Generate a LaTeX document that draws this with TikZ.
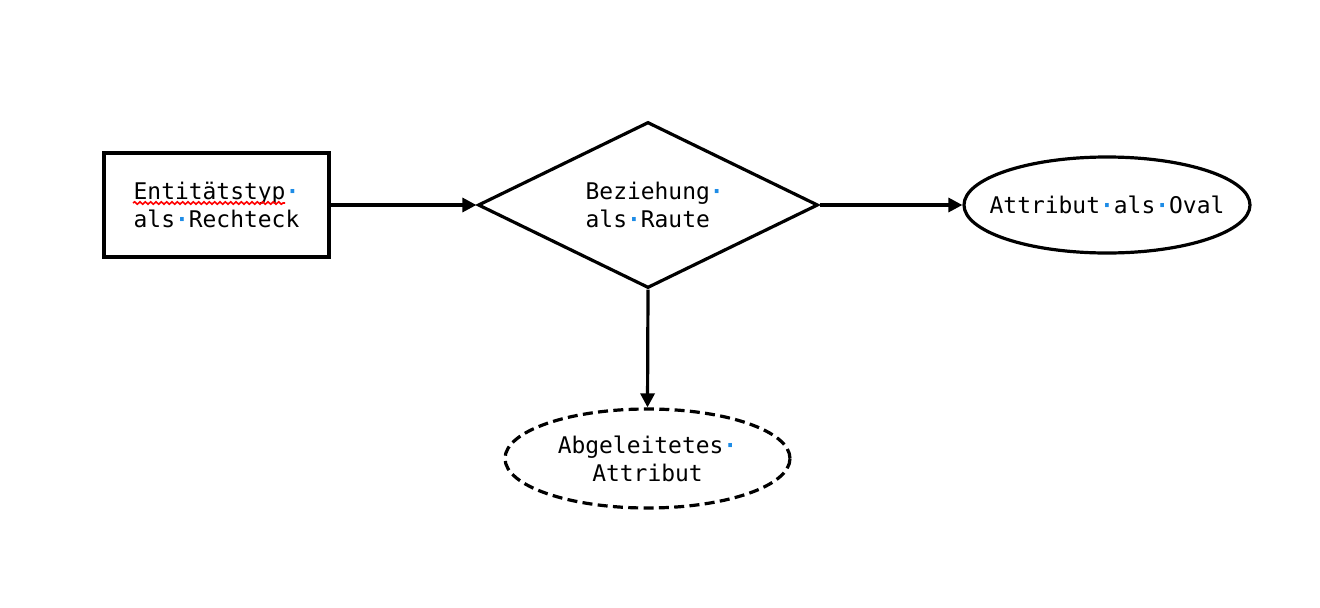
\documentclass[tikz,border=0pt]{standalone}
\usepackage{fontspec}
\setmainfont{DejaVu Sans Mono}
\usetikzlibrary{shapes.geometric,arrows.meta,decorations.pathmorphing}
\definecolor{markblue}{RGB}{30,140,230}
\newcommand{\spmark}{{\color{markblue}\bfseries ·}}
\begin{document}
\begin{tikzpicture}[x=0.75pt,y=-0.75pt,
  every node/.style={font=\fontsize{17.2pt}{21pt}\selectfont, line width=2.4pt, inner sep=0pt},
  every label/.style={draw=none, font=\fontsize{17.2pt}{21pt}\selectfont, inner sep=0pt},
  conn/.style={line width=2.4pt, -{Triangle[length=10.5pt,width=10.5pt]}},
  entity/.style={draw, rectangle, minimum width=168.75pt, minimum height=78pt, align=center},
  relation/.style={draw, diamond, minimum width=255pt, minimum height=124.5pt, aspect=2.05},
  attr/.style={draw, ellipse, minimum width=214.5pt, minimum height=72pt},
  derived/.style={attr, dash pattern=on 7.5pt off 4pt, minimum width=213.75pt, minimum height=74.25pt}]
\useasboundingbox (0,0) rectangle (1320,607);
\node[entity] (ent) at (216.5,205) {Entitätstyp\spmark\\als\spmark Rechteck};
\node[relation, label={[xshift=5pt, align=left]center:Beziehung\spmark\\als\spmark Raute}] (rel) at (648,205) {};
\node[attr, label={[align=center]center:Attribut\spmark als\spmark Oval}] (att) at (1107,205) {};
\node[derived, label={[align=center]center:Abgeleitetes\spmark\\Attribut}] (der) at (647.5,458.5) {};
\draw[conn] (ent.east) -- (rel.west);
\draw[conn] (rel.east) -- (att.west);
\draw[conn] (rel.south) -- (der.north);
\draw[red, line width=1.2pt, decorate, decoration={snake, amplitude=0.9pt, segment length=4pt}] (133,203) -- (285,203);
\end{tikzpicture}
\end{document}
